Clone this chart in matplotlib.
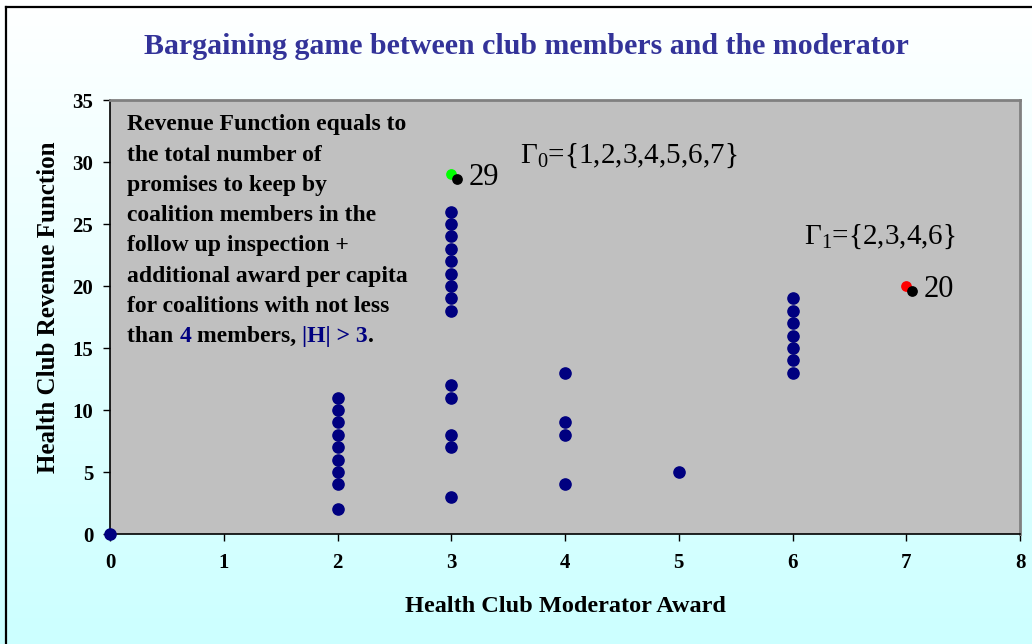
import numpy as np
import matplotlib
matplotlib.use("Agg")
import matplotlib.pyplot as plt
from matplotlib.colors import LinearSegmentedColormap
from matplotlib.lines import Line2D

# данные: все коалиции (награда модератора, доход клуба)
award = [0,
         2, 2, 2, 2, 2, 2, 2, 2, 2,
         3, 3, 3, 3, 3, 3, 3, 3, 3, 3, 3, 3, 3, 3,
         4, 4, 4, 4,
         5,
         6, 6, 6, 6, 6, 6, 6]
revenue = [0,
           2, 4, 5, 6, 7, 8, 9, 10, 11,
           3, 7, 8, 11, 12, 18, 19, 20, 21, 22, 23, 24, 25, 26,
           4, 8, 9, 13,
           5,
           13, 14, 15, 16, 17, 18, 19]

# выделенные коалиции Г0 и Г1
best_award = [3, 7]
best_revenue = [29, 20]
best_colors = ["#00FF00", "#FF0000"]
best_labels = ["29", "20"]

x_ticks = list(range(0, 9))
y_ticks = list(range(0, 36, 5))

plt.rcParams["font.family"] = ["Liberation Serif", "DejaVu Serif"]
plt.rcParams["mathtext.fontset"] = "custom"
plt.rcParams["mathtext.rm"] = "Liberation Serif"
plt.rcParams["mathtext.it"] = "Liberation Serif:italic"

navy = "#000080"

fig = plt.figure(figsize=(10.32, 6.44), dpi=100)

# градиентный фон
bg = fig.add_axes([0, 0, 1, 1], zorder=-10)
cmap = LinearSegmentedColormap.from_list("bg", ["#FFFFFF", "#CCFFFF"])
bg.imshow(np.linspace(0, 1, 256).reshape(-1, 1), aspect="auto", cmap=cmap,
          extent=[0, 1, 0, 1])
bg.axis("off")

# рамка (видны только левая и верхняя стороны)
fig.add_artist(Line2D([6 / 1032, 6 / 1032], [0, 1 - 7 / 644],
                      color="black", lw=1.6, transform=fig.transFigure))
fig.add_artist(Line2D([6 / 1032, 1], [1 - 7 / 644, 1 - 7 / 644],
                      color="black", lw=1.6, transform=fig.transFigure))

ax = fig.add_axes([110 / 1032, 1 - 534 / 644, 910 / 1032, 434 / 644])
ax.set_facecolor("#C0C0C0")

ax.scatter(award, revenue, s=65, color=navy, zorder=3, clip_on=False)
for xv, yv, c, lab in zip(best_award, best_revenue, best_colors, best_labels):
    ax.scatter([xv], [yv], s=45, color=c, zorder=4)
    ax.scatter([xv + 0.05], [yv - 0.4], s=45, color="black", zorder=5)
    ax.text(xv + 0.15, yv - 0.25, lab, fontsize=22, va="center", ha="left")

ax.set_xlim(0, 8)
ax.set_ylim(0, 35)
ax.set_xticks(x_ticks)
ax.set_yticks(y_ticks)
ax.tick_params(direction="out", length=5, width=1, labelsize=15)
ax.tick_params(axis="y", pad=7)
ax.tick_params(axis="x", pad=9)
for lab in ax.get_xticklabels() + ax.get_yticklabels():
    lab.set_fontweight("bold")

for s in ["left", "bottom"]:
    ax.spines[s].set_color("black")
    ax.spines[s].set_linewidth(1.2)
for s in ["top", "right"]:
    ax.spines[s].set_color("#808080")
    ax.spines[s].set_linewidth(2)

ax.set_xlabel("Health Club Moderator Award", fontsize=17.5, fontweight="bold",
              labelpad=16)
ax.set_ylabel("Health Club Revenue Function", fontsize=18, fontweight="bold")
ax.yaxis.set_label_coords(-0.055, 0.523)

fig.text(0.51, 1 - 46 / 644, "Bargaining game between club members and the moderator",
         ha="center", va="center", fontsize=21.5, fontweight="bold",
         color="#333399")

# поясняющий текст, построчно
lines = ["Revenue Function equals to",
         "the total number of",
         "promises to keep by",
         "coalition members in the",
         "follow up inspection +",
         "additional award per capita",
         "for coalitions with not less"]
y_top, step = 33.0, 2.44
for i, line in enumerate(lines):
    ax.text(0.15, y_top - i * step, line, fontsize=17, fontweight="bold",
            va="center", ha="left")
parts = [("than ", "black"), ("4", navy), (" members, ", "black"),
         ("|H| > 3", navy), (".", "black")]
prev = ax.text(0.15, y_top - len(lines) * step, parts[0][0], fontsize=17,
               fontweight="bold", va="center", ha="left", color=parts[0][1])
for txt, col in parts[1:]:
    prev = ax.annotate(txt, xy=(1, 0), xycoords=prev, va="bottom", ha="left",
                       fontsize=17, fontweight="bold", color=col)

ax.text(3.6, 30.5, r"$\Gamma_0$={1,2,3,4,5,6,7}", fontsize=21, va="center",
        ha="left")
ax.text(6.1, 24.0, r"$\Gamma_1$={2,3,4,6}", fontsize=21, va="center",
        ha="left")

fig.savefig("out.png", dpi=100)
